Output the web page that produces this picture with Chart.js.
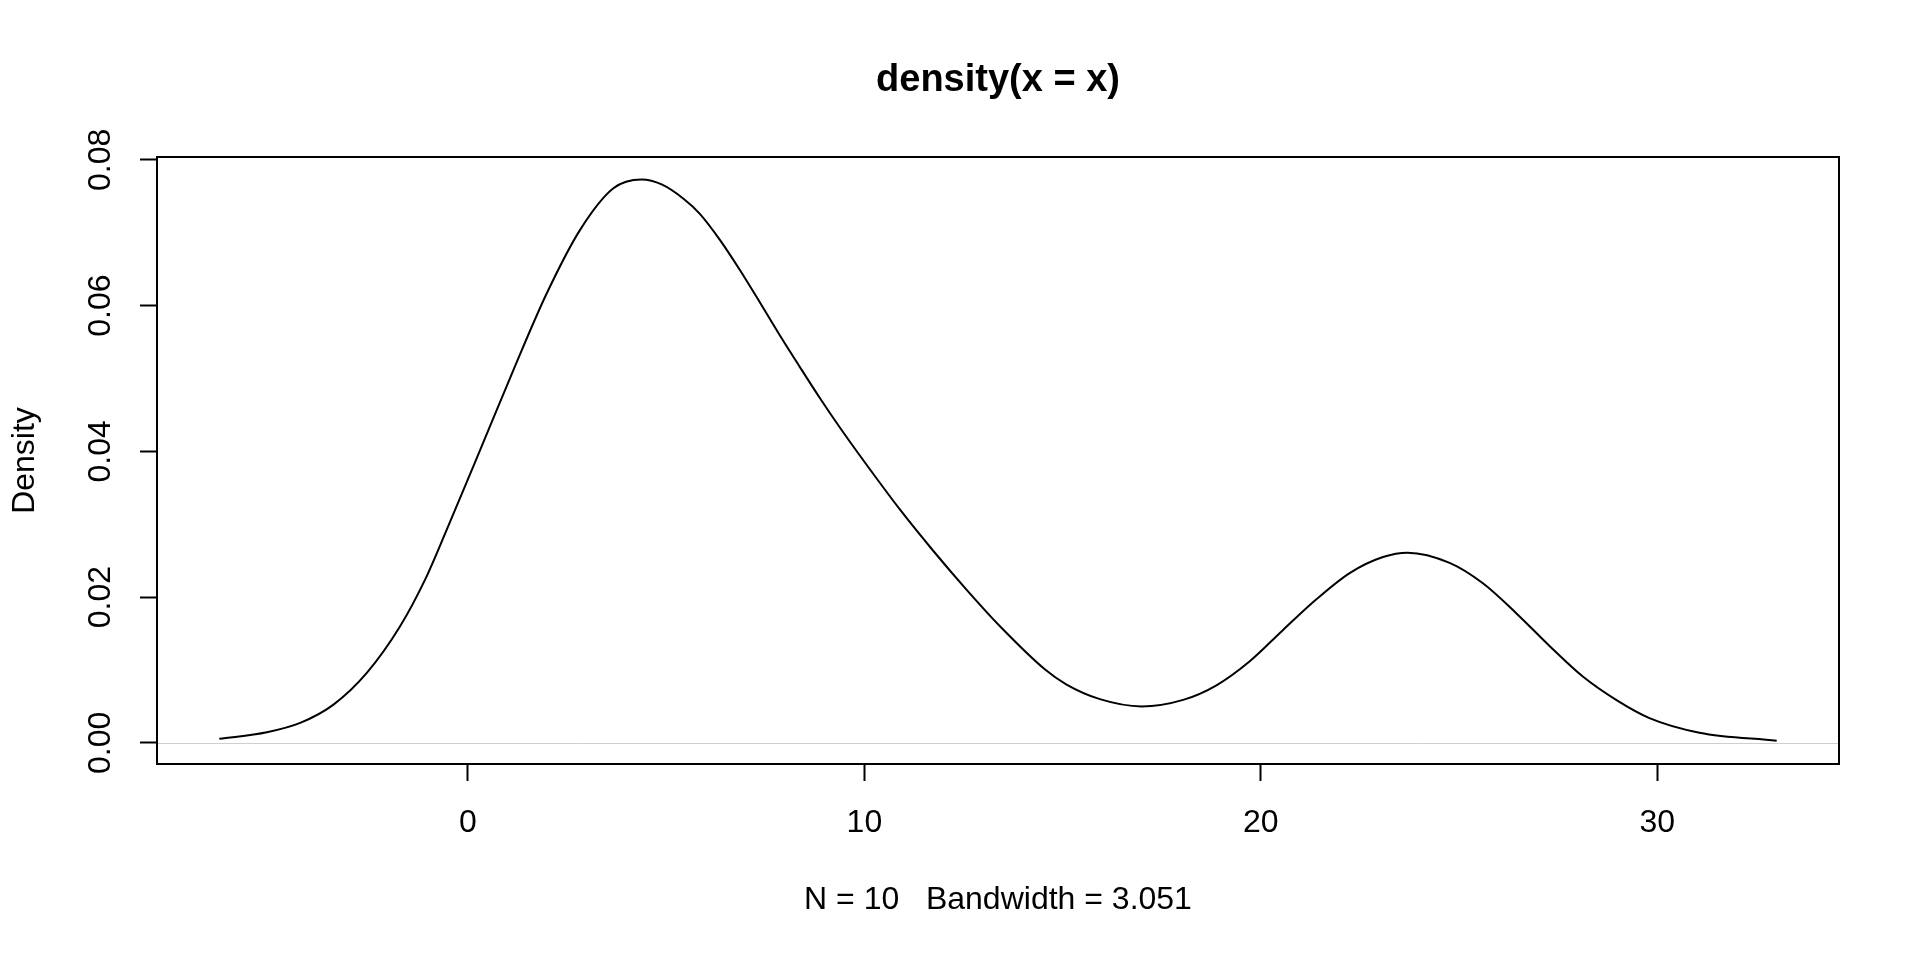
<!DOCTYPE html>
<html>
<head>
<meta charset="utf-8">
<title>density(x = x)</title>
<script src="https://cdn.jsdelivr.net/npm/chart.js@4"></script>
<style>
  html, body { margin: 0; padding: 0; background: #fff; }
  #wrap { width: 1920px; height: 960px; }
</style>
</head>
<body>
<div id="wrap"><canvas id="chart" width="1920" height="960"></canvas></div>
<script>
// values
const densityX = [-6.27, -5.07, -4.23, -3.39, -2.55, -1.71, -1.08, -0.53, 0.31, 1.15, 1.99, 2.83, 3.67,
  4.38, 4.9, 5.43, 5.85, 6.36, 6.86, 7.37, 7.87, 8.37, 8.88, 9.43, 9.89, 10.9, 11.73, 12.58, 13.42,
  14.55, 15.1, 15.94, 16.99, 18.04, 18.88, 19.72, 20.56, 21.4, 22.24, 23.08, 23.7, 24.76, 25.6,
  26.44, 27.28, 28.12, 28.96, 29.8, 31.06, 33.01];
const densityY = [0.00055, 0.00146, 0.00274, 0.00525, 0.0096, 0.016, 0.0224, 0.0293, 0.0402, 0.0512,
  0.0617, 0.0704, 0.0761, 0.0773, 0.0766, 0.0747, 0.0726, 0.069, 0.0649, 0.0604, 0.0559, 0.0516,
  0.0473, 0.0429, 0.0394, 0.032, 0.0264, 0.021, 0.016, 0.0101, 0.008, 0.006, 0.0050, 0.0059, 0.0079,
  0.0112, 0.0155, 0.0197, 0.0233, 0.0255, 0.0261, 0.0247, 0.0219, 0.0178, 0.0133, 0.0091, 0.0059,
  0.0034, 0.0014, 0.0003];

const xTicks = [0, 10, 20, 30];
const yTicks = [0, 0.02, 0.04, 0.06, 0.08];
const yTickLabels = ['0.00', '0.02', '0.04', '0.06', '0.08'];

const titleText = 'density(x = x)';
const subText = 'N = 10   Bandwidth = 3.051';
const yLabel = 'Density';

const FONT = '"Liberation Sans", Arial, Helvetica, sans-serif';

// R style 4% axis extension
const xLo = Math.min(...densityX), xHi = Math.max(...densityX);
const xPad = (xHi - xLo) * 0.04;

const rDecor = {
  id: 'rDecor',
  afterDatasetsDraw(chart) {
    const { ctx, chartArea: a, scales: { x, y } } = chart;
    ctx.save();
    // zero line
    ctx.strokeStyle = '#cfcfcf';
    ctx.lineWidth = 1;
    const y0 = Math.round(y.getPixelForValue(0)) + 0.5;
    ctx.beginPath();
    ctx.moveTo(a.left, y0);
    ctx.lineTo(a.right, y0);
    ctx.stroke();
    // box
    ctx.strokeStyle = '#000';
    ctx.lineWidth = 2;
    ctx.strokeRect(a.left, a.top, a.right - a.left, a.bottom - a.top);

    ctx.fillStyle = '#000';
    ctx.textAlign = 'center';
    ctx.textBaseline = 'middle';
    const cx = (a.left + a.right) / 2;

    ctx.font = 'bold 38px ' + FONT;
    ctx.fillText(titleText, cx, 81);

    ctx.font = '32px ' + FONT;
    ctx.fillText(subText, cx, 900);

    xTicks.forEach(v => ctx.fillText(String(v), x.getPixelForValue(v), 823));

    yTicks.forEach((v, i) => {
      ctx.save();
      ctx.translate(101, y.getPixelForValue(v));
      ctx.rotate(-Math.PI / 2);
      ctx.fillText(yTickLabels[i], 0, 0);
      ctx.restore();
    });

    ctx.save();
    ctx.translate(25, (a.top + a.bottom) / 2);
    ctx.rotate(-Math.PI / 2);
    ctx.fillText(yLabel, 0, 0);
    ctx.restore();
    ctx.restore();
  }
};

new Chart(document.getElementById('chart'), {
  type: 'scatter',
  data: {
    datasets: [{
      data: densityX.map((v, i) => ({ x: v, y: densityY[i] })),
      showLine: true,
      borderColor: '#000',
      borderWidth: 2,
      pointRadius: 0,
      cubicInterpolationMode: 'monotone',
      fill: false,
    }],
  },
  options: {
    responsive: false,
    animation: false,
    layout: { padding: { left: 0, top: 157, right: 81, bottom: 0 } },
    plugins: {
      legend: { display: false },
      title: { display: false },
      tooltip: { enabled: false },
    },
    scales: {
      x: {
        type: 'linear',
        min: xLo - xPad,
        max: xHi + xPad,
        afterBuildTicks: s => { s.ticks = xTicks.map(v => ({ value: v })); },
        afterFit: s => { s.height = 196; },
        ticks: { display: false },
        grid: { drawOnChartArea: false, drawTicks: true, tickLength: 17, tickWidth: 2, tickColor: '#000' },
        border: { display: false },
      },
      y: {
        type: 'linear',
        min: -0.0029,
        max: 0.0804,
        afterBuildTicks: s => { s.ticks = yTicks.map(v => ({ value: v })); },
        afterFit: s => { s.width = 157; },
        ticks: { display: false },
        grid: { drawOnChartArea: false, drawTicks: true, tickLength: 17, tickWidth: 2, tickColor: '#000' },
        border: { display: false },
      },
    },
  },
  plugins: [rDecor],
});
</script>
</body>
</html>
